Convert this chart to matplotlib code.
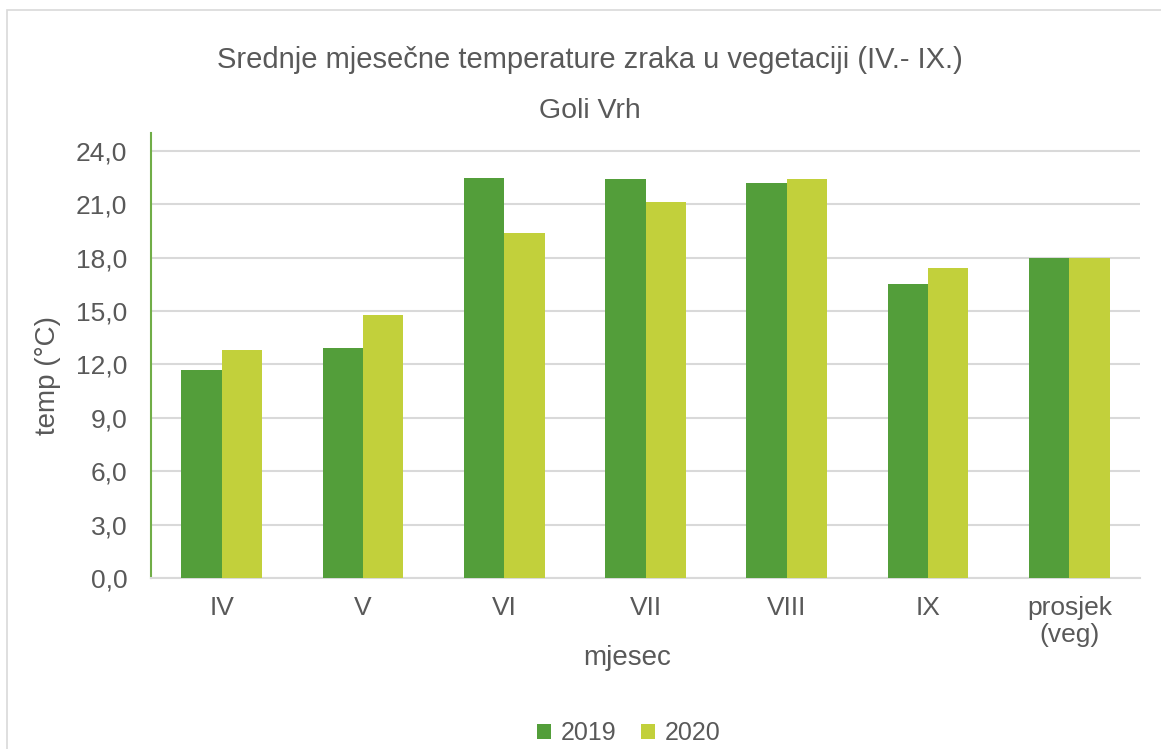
import matplotlib
matplotlib.use("Agg")
import matplotlib.pyplot as plt
import numpy as np
from matplotlib.patches import Rectangle

plt.rcParams['font.family'] = ['Liberation Sans', 'DejaVu Sans']

# podaci
mjeseci = ["IV", "V", "VI", "VII", "VIII", "IX", "prosjek\n(veg)"]
temp_2019 = [11.7, 12.9, 22.5, 22.4, 22.2, 16.5, 18.0]
temp_2020 = [12.8, 14.8, 19.4, 21.1, 22.4, 17.4, 18.0]
godine = ["2019", "2020"]

boja_2019 = "#539E3A"
boja_2020 = "#C2D03B"
siva = "#595959"

fig = plt.figure(figsize=(11.61, 7.49), dpi=100)

# okvir grafikona
fig.patches.append(Rectangle((7 / 1161, -0.1), 1.2, 1 - 10 / 749 + 0.1,
                             transform=fig.transFigure, fill=False,
                             edgecolor="#d9d9d9", linewidth=1.2))

ax = fig.add_axes([151 / 1161, 1 - 578 / 749, (1140 - 151) / 1161, (578 - 133) / 749])

x = np.arange(len(mjeseci))
sirina = 1 / 3.5
ax.bar(x - sirina / 2, temp_2019, sirina, color=boja_2019, label=godine[0], zorder=3)
ax.bar(x + sirina / 2, temp_2020, sirina, color=boja_2020, label=godine[1], zorder=3)

ax.set_xlim(-0.5, len(mjeseci) - 0.5)
ax.set_ylim(0, 25.0)
yt = np.arange(0, 24.1, 3)
ax.set_yticks(yt)
ax.set_yticklabels([f"{v:.1f}".replace(".", ",") for v in yt])
ax.set_xticks(x)
ax.set_xticklabels(mjeseci)

ax.grid(axis="y", color="#d9d9d9", linewidth=1.5, zorder=0)
for s in ["top", "right"]:
    ax.spines[s].set_visible(False)
ax.spines["left"].set_color("#70AD47")
ax.spines["left"].set_linewidth(1.5)
ax.spines["bottom"].set_color("#d9d9d9")
ax.spines["bottom"].set_linewidth(1.5)
ax.tick_params(axis="both", length=0, labelsize=19, colors=siva)
ax.tick_params(axis="y", pad=17)
ax.tick_params(axis="x", pad=13)
for t in ax.get_xticklabels():
    t.set_linespacing(1.15)

# nazivi osi (pozicija kao u Excelu, malo pomaknuto od sredine)
ax.set_xlabel("mjesec", fontsize=20, color=siva)
ax.xaxis.set_label_coords(0.481, -0.18)
ax.xaxis.label.set_va("center")
ax.set_ylabel("temp (°C)", fontsize=20, color=siva)
ax.yaxis.set_label_coords(-0.104, 0.456)
ax.yaxis.label.set_va("center")

fig.text(590 / 1161, 1 - 60 / 749, "Srednje mjesečne temperature zraka u vegetaciji (IV.- IX.)",
         ha="center", va="center", fontsize=21, color=siva)
fig.text(590 / 1161, 1 - 111 / 749, "Goli Vrh", ha="center", va="center", fontsize=20.5, color=siva)

fig.legend(loc="center", bbox_to_anchor=(629 / 1161, 1 - 733 / 749), ncol=2, frameon=False,
           fontsize=18, handlelength=0.55, handleheight=0.55, handletextpad=0.4,
           columnspacing=1.0, labelcolor=siva)

fig.savefig("out.png", dpi=100)
